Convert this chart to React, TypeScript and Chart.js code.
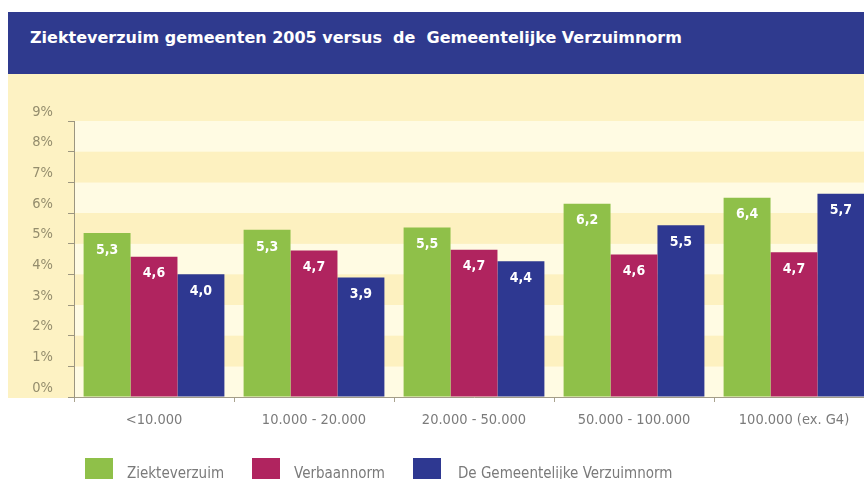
import React, { useEffect, useRef } from "react";
import { Chart, registerables } from "chart.js";

Chart.register(...registerables);

const titleText = "Ziekteverzuim gemeenten 2005 versus  de  Gemeentelijke Verzuimnorm";
const categories = ["<10.000", "10.000 - 20.000", "20.000 - 50.000", "50.000 - 100.000", "100.000 (ex. G4)"];
const seriesNames = ["Ziekteverzuim", "Verbaannorm", "De Gemeentelijke Verzuimnorm"];
const seriesColors = ["#8fc049", "#b0245f", "#2e3891"];

// bar heights as drawn in the picture
const ziekteverzuim = [5.35, 5.45, 5.53, 6.3, 6.5];
const verbaannorm = [4.57, 4.78, 4.8, 4.65, 4.72];
const verzuimnorm = [4.0, 3.9, 4.43, 5.6, 6.63];

// printed value labels
const ziekteverzuimLabels = ["5,3", "5,3", "5,5", "6,2", "6,4"];
const verbaannormLabels = ["4,6", "4,7", "4,7", "4,6", "4,7"];
const verzuimnormLabels = ["4,0", "3,9", "4,4", "5,5", "5,7"];

const yMin = 0;
const yMax = 9;
const yStep = 1;

const FONT = "'DejaVu Sans Condensed', 'DejaVu Sans', sans-serif";

const backgroundPlugin = {
  id: "bgStripes",
  beforeDraw(chart: any) {
    const { ctx, chartArea, scales } = chart;
    const y = scales.y;
    ctx.save();
    ctx.fillStyle = "#fdf2c3";
    ctx.fillRect(8, 0, chart.width - 8, chartArea.bottom + 1);
    for (let v = yMin; v < yMax; v += yStep) {
      const top = y.getPixelForValue(v + yStep);
      const bot = y.getPixelForValue(v);
      ctx.fillStyle = (v / yStep) % 2 === 0 ? "#fffbe3" : "#fdf1c0";
      ctx.fillRect(chartArea.left, top, chartArea.right - chartArea.left, bot - top);
    }
    ctx.restore();
  },
};

const valueLabelPlugin = {
  id: "valueLabels",
  afterDatasetsDraw(chart: any) {
    const { ctx } = chart;
    ctx.save();
    ctx.fillStyle = "#ffffff";
    ctx.font = "bold 14px " + FONT;
    ctx.textAlign = "center";
    ctx.textBaseline = "middle";
    chart.data.datasets.forEach((ds: any, di: number) => {
      const meta = chart.getDatasetMeta(di);
      meta.data.forEach((bar: any, i: number) => {
        ctx.fillText(ds.valueLabels[i], bar.x, bar.y + 17);
      });
    });
    ctx.restore();
  },
};

function BarChart() {
  const ref = useRef<HTMLCanvasElement | null>(null);
  useEffect(() => {
    if (!ref.current) return;
    const labelSets = [ziekteverzuimLabels, verbaannormLabels, verzuimnormLabels];
    const dataSets = [ziekteverzuim, verbaannorm, verzuimnorm];
    const chart = new Chart(ref.current, {
      type: "bar",
      data: {
        labels: categories,
        datasets: seriesNames.map((name, k) => ({
          label: name,
          data: dataSets[k],
          backgroundColor: seriesColors[k],
          borderWidth: 0,
          categoryPercentage: 0.88,
          barPercentage: 1,
          valueLabels: labelSets[k],
        })) as any,
      },
      options: {
        animation: false,
        responsive: false,
        layout: { padding: { top: 47, right: 6, left: 0, bottom: 0 } },
        plugins: { legend: { display: false }, title: { display: false }, tooltip: { enabled: false } },
        scales: {
          x: {
            type: "category",
            offset: true,
            grid: { offset: true, drawOnChartArea: false, drawTicks: true, tickLength: 5, color: "#aaa48f" },
            border: { display: true, color: "#a39d88", width: 1 },
            ticks: { color: "#7b7b7b", font: { family: FONT, size: 14.5 }, padding: 10, maxRotation: 0 },
            afterFit: (scale: any) => { scale.height = 82; },
          },
          y: {
            min: yMin,
            max: yMax,
            ticks: {
              stepSize: yStep,
              color: "#948d6d",
              font: { family: FONT, size: 14.5 },
              padding: 15,
              labelOffset: -9,
              callback: (v: any) => v + "%",
            },
            grid: { drawOnChartArea: false, drawTicks: true, tickLength: 6, color: "#9c9680" },
            border: { display: true, color: "#9c9680", width: 1 },
            afterFit: (scale: any) => { scale.width = 74; },
          },
        },
      } as any,
      plugins: [backgroundPlugin, valueLabelPlugin],
    });
    return () => chart.destroy();
  }, []);
  return <canvas ref={ref} width={880} height={405} style={{ position: "absolute", left: 0, top: 74, width: 880, height: 405 }} />;
}

export default function App() {
  return (
    <div style={{ position: "absolute", left: 0, top: 0, width: 864, height: 479, overflow: "hidden", background: "#ffffff" }}>
      <div style={{ position: "absolute", left: 8, top: 12, width: 856, height: 62, background: "#2f3a8e" }} />
      <div
        style={{
          position: "absolute",
          left: 30,
          top: 30,
          color: "#ffffff",
          fontFamily: "'DejaVu Sans', sans-serif",
          fontWeight: "bold",
          fontSize: 16,
          lineHeight: "16px",
          whiteSpace: "pre",
        }}
      >
        {titleText}
      </div>
      <BarChart />
      <div
        style={{
          position: "absolute",
          left: 85,
          top: 458,
          display: "flex",
          alignItems: "flex-start",
          gap: 28,
          fontFamily: FONT,
          fontSize: 15,
          lineHeight: "15px",
          color: "#7a7a7a",
          whiteSpace: "nowrap",
        }}
      >
        {seriesNames.map((name, k) => (
          <div key={name} style={{ display: "flex", alignItems: "flex-start" }}>
            <div style={{ width: 28, height: 28, background: seriesColors[k], marginRight: k === 2 ? 17 : 14 }} />
            <div style={{ paddingTop: 8 }}>{name}</div>
          </div>
        ))}
      </div>
    </div>
  );
}
